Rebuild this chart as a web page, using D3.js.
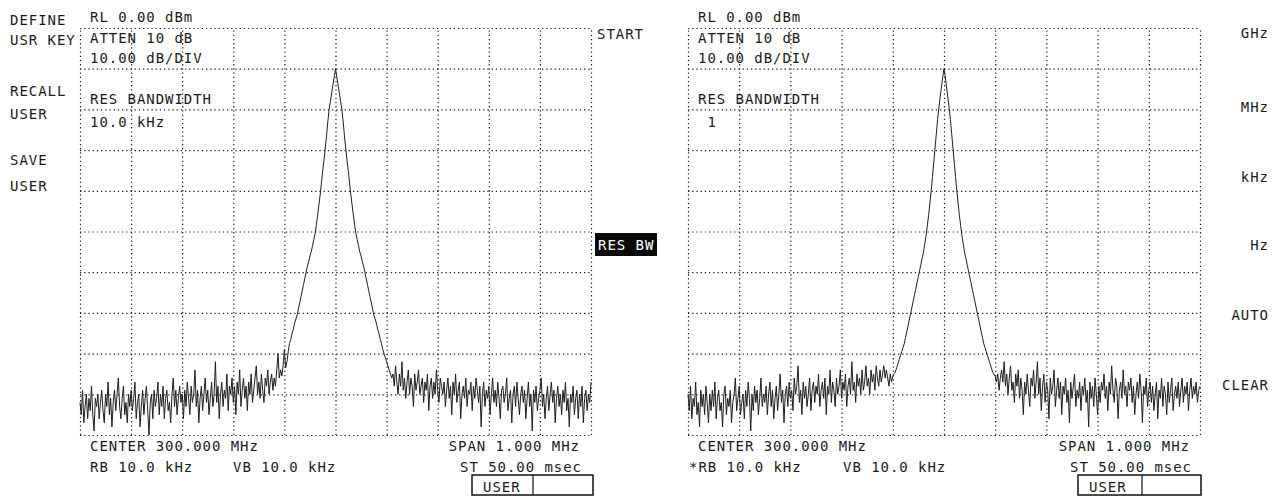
<!DOCTYPE html>
<html>
<head>
<meta charset="utf-8">
<script src="https://cdn.jsdelivr.net/npm/d3@7"></script>
<style>
  html, body { margin: 0; padding: 0; background: #fff; }
  svg text { font-family: "DejaVu Sans Mono", "Liberation Mono", monospace; font-size: 14px; fill: #1a1a1a; letter-spacing: 0.95px; }
  .grid line, .grid path { stroke: #222; stroke-width: 1.2; stroke-dasharray: 1.3 2.9; fill: none; }
  .trace { fill: none; stroke: #1e1e1e; stroke-width: 1; stroke-linejoin: round; }
</style>
</head>
<body>
<svg id="chart" width="1273" height="498"></svg>
<script>
// ---------------- DATA ----------------
const centerMHz = 300.0;
const spanMHz = 1.0;
const refLevel = 0;        // dBm
const dbPerDiv = 10;
const xDivisions = 10;
const yDivisions = 10;

// Left screen trace (401 points, dBm)
const traceLeft = [
  // noise, left of signal
  -92,-95,-89,-97,-93,-90,-96,-91,-94,-88,-95,-99,-91,-93,-90,-96,-92,-89,-94,-97,
  -90,-93,-87,-95,-91,-98,-92,-89,-94,-90,-86,-93,-96,-91,-88,-95,-92,-97,-90,-93,
  -89,-94,-91,-87,-96,-92,-90,-98,-93,-89,-95,-91,-88,-94,-100,-92,-90,-96,-89,-93,
  -91,-87,-95,-90,-93,-88,-96,-91,-89,-94,-92,-97,-90,-86,-93,-89,-95,-91,-88,-92,
  -90,-96,-89,-93,-87,-91,-95,-88,-92,-90,-84,-93,-89,-97,-91,-88,-94,-90,-86,-92,
  -89,-95,-91,-87,-93,-90,-82,-92,-88,-96,-90,-87,-93,-89,-91,-85,-94,-88,-90,-86,
  -92,-88,-95,-87,-90,-84,-93,-89,-86,-91,-88,-94,-87,-90,-85,-92,-89,-86,-83,-90,
  -87,-91,-85,-89,-92,-86,-88,-84,-90,-87,-85,-89,-86,-88,-84,-80,
  // signal skirt (left)
  -86,-84,-85.5,-83,-79,-83.5,-82,-79.5,-77.5,-76.5,-75,-74,-72.5,-71.5,-70.5,
  -69,-67.5,-66,-64.5,-63,-61.5,-60,-58.5,-57.5,-56,-55,-53.5,-52,-50.5,-48.5,
  -46,-43.5,-41,-38,-35,-32.5,-29.5,-26.5,-23,-20,-18,-16,-14,-12,
  // peak
  -10,
  // signal skirt (right)
  -12,-14,-16,-18,-20,-23,-26.5,-29.5,-32.5,-35,-38,-41,-43.5,-46,-48.5,
  -50.5,-52,-53.5,-55,-56,-57.5,-58.5,-60,-61.5,-63,-64.5,-66,-67.5,-69,-70.5,
  -71.5,-72.5,-74,-75,-76.5,-77.5,-79,-80,-81,-82,-83,-84,-85,-86,
  // noise, right of signal
  -85,-88,-83,-87,-90,-85,-88,-82,-89,-86,-91,-87,-84,-90,-86,-88,-93,-85,-89,-87,
  -84,-90,-88,-86,-92,-87,-89,-85,-94,-88,-86,-91,-87,-90,-84,-89,-92,-86,-88,-90,
  -87,-93,-89,-86,-91,-88,-95,-87,-90,-85,-92,-89,-87,-96,-90,-88,-91,-86,-93,-89,
  -90,-87,-94,-88,-91,-86,-89,-92,-88,-98,-90,-87,-93,-89,-91,-88,-95,-90,-86,-92,
  -89,-93,-87,-91,-96,-89,-88,-92,-90,-86,-94,-91,-89,-97,-90,-88,-93,-87,-91,-95,
  -90,-88,-92,-89,-96,-91,-87,-93,-90,-99,-89,-92,-88,-94,-91,-89,-86,-93,-90,-96,
  -91,-88,-94,-90,-87,-92,-89,-97,-91,-88,-93,-90,-95,-89,-92,-87,-94,-91,-98,-90,
  -92,-88,-95,-91,-89,-96,-90,-93,-88,-97,-91,-89,-94,-90,-92,-87
];

// Right screen trace (401 points, dBm)
const traceRight = [
  // noise, left of signal
  -90,-94,-88,-96,-91,-93,-87,-95,-92,-98,-89,-93,-90,-95,-88,-92,-97,-90,-94,-89,
  -93,-87,-96,-91,-89,-94,-92,-98,-90,-88,-95,-91,-93,-89,-97,-92,-90,-86,-94,-91,
  -88,-95,-92,-90,-96,-89,-93,-87,-91,-99,-90,-94,-88,-92,-89,-95,-91,-86,-93,-90,
  -92,-88,-95,-90,-87,-93,-89,-96,-91,-88,-94,-90,-85,-92,-89,-97,-90,-88,-93,-87,
  -91,-89,-94,-86,-90,-88,-83,-92,-89,-95,-87,-91,-88,-93,-90,-86,-94,-89,-87,-92,
  -88,-90,-85,-93,-89,-87,-91,-86,-95,-88,-90,-84,-92,-87,-89,-93,-86,-90,-88,-84,
  -91,-87,-89,-85,-93,-88,-86,-90,-82,-89,-87,-92,-85,-88,-86,-90,-84,-89,-87,-83,
  -88,-86,-90,-84,-87,-85,-89,-83,-86,-88,-84,-87,-85,-83,-86,-84,
  // signal skirt (left)
  -86,-88,-85,-87,-85.5,-85,-84.5,-83.5,-82.5,-81.5,-80.5,-79.5,-78.5,-77.5,-76,
  -74.5,-73,-71.5,-70,-68.5,-67,-65.5,-64,-62.5,-61,-59.5,-58,-56.5,-55,-53,
  -51,-48.5,-46,-43,-40,-36.5,-33,-29.5,-26,-22.5,-19.5,-17,-14.5,-12,
  // peak
  -10,
  // signal skirt (right)
  -12,-14.5,-17,-19.5,-22.5,-26,-29.5,-33,-36.5,-40,-43,-46,-48.5,-51,-53,
  -55,-56.5,-58,-59.5,-61,-62.5,-64,-65.5,-67,-68.5,-70,-71.5,-73,-74.5,-76,
  -77.5,-78.5,-79.5,-80.5,-81.5,-82.5,-83.5,-84.5,-85,-85.5,-87,-85,-89,-86,
  // noise, right of signal
  -84,-87,-82,-88,-85,-90,-86,-83,-89,-87,-92,-85,-88,-84,-91,-86,-89,-95,-87,-90,
  -85,-89,-93,-86,-88,-84,-91,-87,-82,-90,-86,-94,-88,-85,-92,-87,-89,-96,-86,-90,
  -88,-84,-93,-89,-86,-91,-87,-95,-88,-90,-86,-92,-89,-97,-87,-91,-88,-85,-93,-89,
  -91,-87,-94,-88,-90,-86,-92,-89,-98,-87,-91,-88,-93,-86,-90,-95,-88,-92,-87,-89,
  -85,-91,-88,-94,-87,-90,-83,-89,-92,-86,-88,-96,-89,-87,-91,-84,-90,-88,-93,-87,
  -89,-86,-92,-88,-95,-90,-87,-91,-85,-89,-97,-88,-90,-86,-93,-89,-87,-92,-88,-94,
  -90,-87,-96,-89,-91,-86,-93,-88,-90,-95,-87,-92,-89,-86,-94,-90,-88,-91,-87,-93,
  -89,-86,-92,-88,-90,-87,-94,-89,-86,-91,-88,-90,-87,-92,-89,-88
];

// Annotations
const headerLeft = ["RL 0.00 dBm", "ATTEN 10 dB", "10.00 dB/DIV"];
const rbwLabelLeft = ["RES BANDWIDTH", "10.0 kHz"];
const rbwLabelRight = ["RES BANDWIDTH", " 1"];
const footerLeft = ["CENTER 300.000 MHz", "RB 10.0 kHz", "VB 10.0 kHz", "SPAN 1.000 MHz", "ST 50.00 msec"];
const footerRight = ["CENTER 300.000 MHz", "*RB 10.0 kHz", "VB 10.0 kHz", "SPAN 1.000 MHz", "ST 50.00 msec"];
const leftSoftkeys = ["DEFINE", "USR KEY", "RECALL", "USER", "SAVE", "USER"];
const midSoftkeys = ["START", "RES BW"];
const rightSoftkeys = ["GHz", "MHz", "kHz", "Hz", "AUTO", "CLEAR"];
const modeLabel = "USER";

// ---------------- DRAW ----------------
const svg = d3.select("#chart");

function drawScreen(x0, x1, y0, y1, trace) {
  const x = d3.scaleLinear().domain([centerMHz - spanMHz / 2, centerMHz + spanMHz / 2]).range([x0, x1]);
  const y = d3.scaleLinear().domain([refLevel - dbPerDiv * yDivisions, refLevel]).range([y1, y0]);
  const g = svg.append("g");

  const xt = d3.range(xDivisions + 1).map(i => x.domain()[0] + i * spanMHz / xDivisions);
  const yt = d3.range(yDivisions + 1).map(i => refLevel - i * dbPerDiv);

  g.append("g").attr("class", "grid").attr("transform", `translate(0,${y1})`)
    .call(d3.axisBottom(x).tickValues(xt).tickSize(-(y1 - y0)).tickFormat(""))
    .call(s => s.select(".domain").remove());
  g.append("g").attr("class", "grid").attr("transform", `translate(${x0},0)`)
    .call(d3.axisLeft(y).tickValues(yt).tickSize(-(x1 - x0)).tickFormat(""))
    .call(s => s.select(".domain").remove());

  const freqs = trace.map((_, i) => x.domain()[0] + i * spanMHz / (trace.length - 1));
  const line = d3.line().x((d, i) => x(freqs[i])).y(d => y(d));
  g.append("path").attr("class", "trace").attr("d", line(trace));
  return { x, y };
}

drawScreen(80, 591, 28, 435, traceLeft);
drawScreen(688, 1200, 28, 435, traceRight);

function txt(s, x, yb, anchor) {
  return svg.append("text").attr("x", x).attr("y", yb).attr("text-anchor", anchor || "start")
    .attr("xml:space", "preserve").style("white-space", "pre").text(s);
}

// headers
[[90, headerLeft, rbwLabelLeft], [698, headerLeft, rbwLabelRight]].forEach(([hx, h, r]) => {
  txt(h[0], hx, 22); txt(h[1], hx, 43); txt(h[2], hx, 63);
  txt(r[0], hx, 104); txt(r[1], hx, 127);
});

// footers
txt(footerLeft[0], 90, 451); txt(footerLeft[1], 90, 472); txt(footerLeft[2], 233, 472);
txt(footerLeft[3], 580, 451, "end"); txt(footerLeft[4], 582, 472, "end");
txt(footerRight[0], 698, 451); txt(footerRight[1], 689, 472); txt(footerRight[2], 843, 472);
txt(footerRight[3], 1190, 451, "end"); txt(footerRight[4], 1192, 472, "end");

// left softkeys
const lsY = [25, 45, 96, 119, 165, 191];
leftSoftkeys.forEach((s, i) => txt(s, 10, lsY[i]));

// middle softkeys
txt(midSoftkeys[0], 597, 39);
svg.append("rect").attr("x", 595).attr("y", 233).attr("width", 62).attr("height", 23).attr("fill", "#0a0a0a");
txt(midSoftkeys[1], 598, 250).style("fill", "#fff");

// right softkeys
const rsY = [38, 112, 182, 250, 320, 390];
rightSoftkeys.forEach((s, i) => txt(s, 1269, rsY[i], "end"));

// USER boxes
[[472, 533, 593], [1078, 1142, 1201]].forEach(([bx, dx, ex]) => {
  svg.append("rect").attr("x", bx).attr("y", 475).attr("width", ex - bx).attr("height", 20)
    .attr("fill", "none").attr("stroke", "#111").attr("stroke-width", 1.5);
  svg.append("line").attr("x1", dx).attr("x2", dx).attr("y1", 475).attr("y2", 495)
    .attr("stroke", "#111").attr("stroke-width", 1.2);
  txt(modeLabel, bx + 11, 492);
});
</script>
</body>
</html>
